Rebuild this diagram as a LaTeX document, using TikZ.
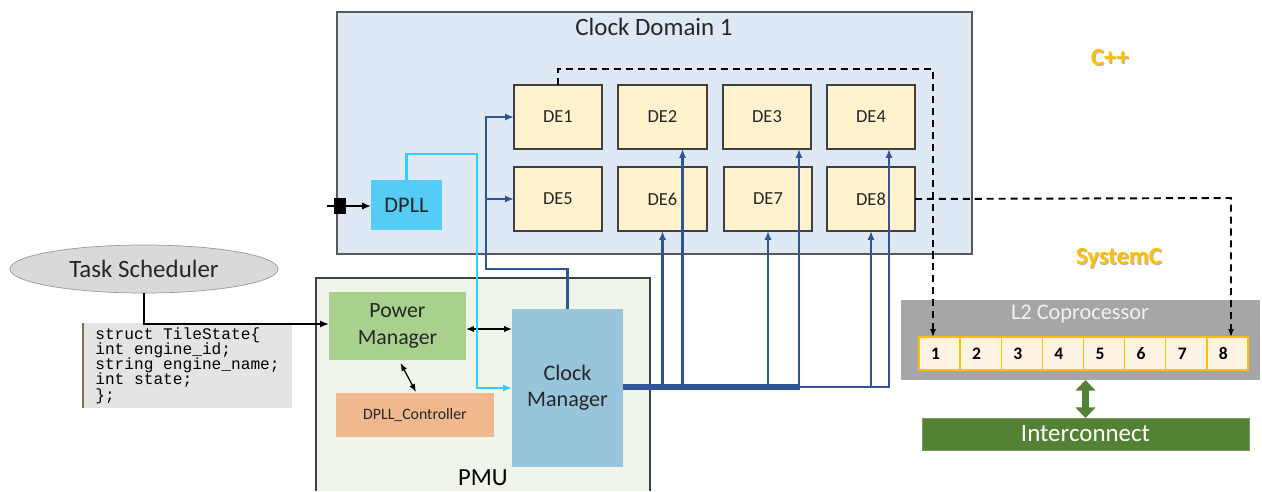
\documentclass[tikz,border=0pt]{standalone}
\usepackage{fontspec}
\setmainfont{Carlito}
\newfontfamily\codefont{Liberation Mono}
\usetikzlibrary{arrows.meta,shapes.geometric,calc}
\definecolor{cdfill}{HTML}{DEE9F5}
\definecolor{cdline}{HTML}{595959}
\definecolor{defill}{HTML}{FFF2CC}
\definecolor{dpllfill}{HTML}{55CCF5}
\definecolor{pmufill}{HTML}{EFF5EA}
\definecolor{pmfill}{HTML}{A9D18E}
\definecolor{dcfill}{HTML}{F0B88C}
\definecolor{cmfill}{HTML}{98C5DC}
\definecolor{dblue}{HTML}{2F5597}
\definecolor{lblue}{HTML}{33CCFF}
\definecolor{l2fill}{HTML}{A6A6A6}
\definecolor{slotfill}{HTML}{FFF3E6}
\definecolor{gold}{HTML}{FFC000}
\definecolor{icgreen}{HTML}{548235}
\definecolor{tsfill}{HTML}{D9D9D9}
\definecolor{codefill}{HTML}{E4E4E4}
\definecolor{codeline}{HTML}{7F6F5F}
\newcommand\pbox[7]{\node[#1, minimum width={(#5-#3)*0.02cm}, minimum height={(#6-#4)*0.02cm}] (#2) at ({(#3+#5)/2},{(#4+#6)/2}) {#7};}
\tikzset{
  every node/.style={inner sep=0pt, outer sep=0pt},
  cdbox/.style={draw=cdline, fill=cdfill, line width=0.7pt},
  debox/.style={draw=black!75, fill=defill, line width=0.6pt, font=\fontsize{10.5}{12}\selectfont, text=black!85},
  dpllbox/.style={fill=dpllfill, font=\fontsize{12.7}{14}\selectfont, text=black!85},
  pmubox/.style={fill=pmufill},
  pmbox/.style={fill=pmfill, align=center, font=\fontsize{12.4}{15}\selectfont, text=black!85},
  dcbox/.style={fill=dcfill, font=\fontsize{9}{11}\selectfont, text=black!85},
  cmbox/.style={fill=cmfill, align=center, font=\fontsize{12.6}{15}\selectfont, text=black!85},
  l2box/.style={fill=l2fill},
  slotbox/.style={draw=gold, fill=slotfill, line width=0.8pt, font=\bfseries\fontsize{10}{11}\selectfont, text width={17*0.02cm}, align=left, inner xsep={12*0.02cm}},
  icbox/.style={draw=icgreen!80!white, fill=icgreen, text=white, font=\fontsize{14.2}{16}\selectfont},
  codebox/.style={fill=codefill, align=left, font={\codefont\fontsize{9.2}{8.7}\selectfont\lineskiplimit=-20pt}, anchor=north west, inner xsep={9*0.02cm}, inner ysep={3*0.02cm}},
  dbl/.style={draw=dblue, line width=1.3pt, -{Latex[length=5pt,width=4pt]}},
  lbl/.style={draw=lblue, line width=1.3pt, -{Latex[length=5pt,width=4pt]}},
  blk/.style={draw=black, line width=0.8pt},
  dsh/.style={draw=black, line width=1.1pt, dash pattern=on 4pt off 2.8pt},
  lang/.style={text=gold, font=\bfseries\fontsize{14}{16}\selectfont},
  langsh/.style={text=black!30, font=\bfseries\fontsize{14}{16}\selectfont},
}
\begin{document}
\begin{tikzpicture}[x=0.02cm,y=-0.02cm]
\useasboundingbox[fill=white] (0,0) rectangle (1262,491);
% Clock domain
\pbox{cdbox}{cd}{337}{12}{972}{254}{}
\node[font=\fontsize{14.2}{16}\selectfont, text=black!85] (cdt) at (654,27) {Clock Domain 1};
\pbox{debox}{de1}{514}{85}{602}{149}{DE1}
\pbox{debox}{de2}{618}{85}{707}{149}{DE2}
\pbox{debox}{de3}{723}{85}{811}{149}{DE3}
\pbox{debox}{de4}{827}{85}{915}{149}{DE4}
\pbox{debox}{de5}{514}{167}{602}{231}{DE5}
\pbox{debox}{de6}{618}{167}{707}{231}{DE6}
\pbox{debox}{de7}{724}{167}{812}{231}{DE7}
\pbox{debox}{de8}{827}{167}{915}{231}{DE8}
\pbox{dpllbox}{dpll}{371}{180}{442}{230}{DPLL}
% input to DPLL
\coordinate (src) at (327,206);
\pbox{fill=black}{inp}{334}{198}{346}{214}{}
\draw[blk] (src) -- (inp.west);
\draw[blk, -{Latex[length=5pt,width=4pt]}] (inp.east) -- (dpll.west |- inp.east);
% PMU
\pbox{pmubox}{pmu}{316}{278}{650}{491}{}
\draw[draw=black!75, line width=0.7pt] (pmu.south west) |- (pmu.north east) -- (pmu.south east);
\node[font=\fontsize{14}{16}\selectfont] (pmut) at (483,478) {PMU};
\pbox{pmbox}{pm}{329}{292}{466}{360}{Power\\Manager}
\pbox{dcbox}{dc}{336}{393}{494}{437}{DPLL\_Controller}
\pbox{cmbox}{cm}{512}{309}{623}{467}{Clock\\Manager}
\draw[blk, line width=0.7pt, {Latex[length=4.5pt,width=3.5pt]}-{Latex[length=4.5pt,width=3.5pt]}] (pm.east |- 0,329) -- (cm.west |- 0,329);
\draw[blk, line width=0.7pt, {Latex[length=4.5pt,width=3.5pt]}-{Latex[length=4.5pt,width=3.5pt]}] ($(pm.south)+(3,3)$) -- ($(dc.north)+(1,-1)$);
% Task scheduler
\node[ellipse, draw=black!40, fill=tsfill, minimum width={268*0.02cm}, minimum height={48*0.02cm}, font=\fontsize{14.2}{16}\selectfont, text=black!85] (ts) at (144,269) {Task Scheduler};
\node[codebox, minimum width={209*0.02cm}, minimum height={85*0.02cm}] (code) at (83,323) {struct TileState\{\\int engine\_id;\\string engine\_name;\\int state;\\\};};
\draw[draw=codeline, line width=1.6pt] (code.north west) -- (code.south west);
\draw[blk, line width=1pt, -{Latex[length=5pt,width=4pt]}] (ts.south) |- (pm.west |- 0,324);
% light blue DPLL -> Clock manager
\coordinate (cmin) at (0,388);
\draw[lbl] (dpll.north) |- (477,154) |- (cm.west |- cmin);
% dark blue Clock manager -> DE1/DE5
\coordinate (jn) at (486,199);
\draw[dbl] (cm.north) |- (486,269) |- (de1.west);
\draw[dbl] (jn) -- (de5.west |- jn);
% bus
\coordinate (bus) at (0,387);
\draw[draw=dblue, line width=3pt] (cm.east |- bus) -- (800,387);
\draw[dbl] (cm.east |- bus) -| (de6.south);
\draw[dbl] (cm.east |- bus) -| ($(de2.south)+(20,0)$);
\draw[dbl] (cm.east |- bus) -| (de7.south);
\draw[dbl] (cm.east |- bus) -| ($(de3.south)+(32,0)$);
\draw[dbl] (cm.east |- bus) -| (de8.south);
\draw[dbl] (cm.east |- bus) -| ($(de4.south)+(18,0)$);
% L2 coprocessor
\pbox{l2box}{l2}{901}{300}{1260}{380}{}
\node[text=black!5, font=\fontsize{12.7}{14}\selectfont] (l2t) at (1080,314) {L2 Coprocessor};
\foreach \i in {1,...,8}{
  \pgfmathsetmacro\xa{919+(\i-1)*41.125}
  \pgfmathsetmacro\xb{919+\i*41.125}
  \pbox{slotbox}{s\i}{\xa}{337}{\xb}{370}{\i}
}
\pbox{icbox}{ic}{922}{418}{1249}{450}{Interconnect}
\draw[draw=icgreen, line width=3.5pt, {Triangle[length=6pt,width=11pt]}-{Triangle[length=6pt,width=11pt]}] (ic.north |- l2.south) -- (ic.north);
% dashed links
\coordinate (c1) at (933,69);
\coordinate (c8) at (1231,198);
\draw[dsh, -{Latex[length=4.5pt,width=3.5pt]}] (de1.north) |- (c1) -- (c1 |- s1.north);
\draw[dsh, -{Latex[length=4.5pt,width=3.5pt]}] (de8.east) -- (c8) -- (c8 |- s8.north);
% language labels
\node[langsh] (cpps) at (1111,59) {C++};
\node[lang] (cpp) at (1110,58) {C++};
\node[langsh] (scs) at (1120,259) {SystemC};
\node[lang] (sc) at (1119,258) {SystemC};
\end{tikzpicture}
\end{document}
